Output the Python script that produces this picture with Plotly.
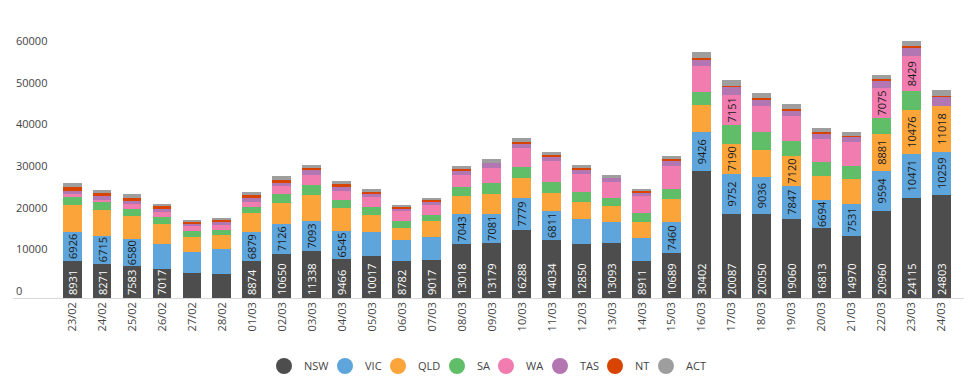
import plotly.graph_objects as go

dates = ['23/02', '24/02', '25/02', '26/02', '27/02', '28/02',
         '01/03', '02/03', '03/03', '04/03', '05/03', '06/03', '07/03', '08/03',
         '09/03', '10/03', '11/03', '12/03', '13/03', '14/03', '15/03', '16/03',
         '17/03', '18/03', '19/03', '20/03', '21/03', '22/03', '23/03', '24/03']

NSW = [8931, 8271, 7583, 7017, 5920, 5680, 8874, 10650, 11338, 9466, 10017, 8782, 9017, 13018, 13179,
       16288, 14034, 12850, 13093, 8911, 10689, 30402, 20087, 20050, 19060, 16813, 14970, 20960, 24115, 24803]
VIC = [6926, 6715, 6580, 5840, 5040, 6000, 6879, 7126, 7093, 6545, 5760, 5040, 5520, 7043, 7081,
       7779, 6811, 6000, 5040, 5440, 7460, 9426, 9752, 9036, 7847, 6694, 7531, 9594, 10471, 10259]
QLD = [6480, 6080, 5520, 4800, 3600, 3360, 4560, 4960, 6400, 5520, 4080, 2880, 3840, 4320, 4800,
       4640, 4320, 4080, 3840, 3840, 5520, 6400, 7190, 6320, 7120, 5760, 6160, 8881, 10476, 11018]
SA = [1920, 1920, 1600, 1680, 1440, 1200, 1440, 2160, 2400, 1920, 1920, 1680, 1440, 2160, 2640,
      2640, 2640, 2400, 1920, 2160, 2400, 3120, 4560, 4320, 3600, 3360, 3120, 3840, 4560, 0]
WA = [720, 480, 1280, 1200, 1200, 1200, 1200, 1920, 2400, 2160, 2400, 2400, 2400, 2880, 3600,
      4560, 5040, 4320, 3840, 4080, 5520, 6240, 7151, 6240, 6000, 5520, 5760, 7075, 8429, 0]
TAS = [720, 1040, 720, 720, 480, 720, 960, 720, 1200, 960, 960, 720, 960, 1200, 1200,
       1200, 1200, 1200, 960, 960, 1440, 1680, 1920, 1680, 1440, 1440, 1200, 1680, 1920, 2160]
NT = [960, 640, 800, 720, 480, 480, 720, 720, 480, 720, 240, 240, 240, 240, 0,
      240, 240, 240, 0, 240, 240, 240, 240, 240, 240, 240, 240, 480, 480, 240]
ACT = [960, 720, 880, 480, 480, 480, 720, 960, 720, 720, 720, 480, 480, 720, 960,
       960, 720, 720, 720, 480, 720, 1440, 1440, 1200, 1200, 960, 960, 960, 1200, 1440]

# which bars carry a data label, per series (by date)
NSW_labelled = [d for d in dates if d not in ('27/02', '28/02')]
VIC_labelled = ['23/02', '24/02', '25/02', '01/03', '02/03', '03/03', '04/03', '08/03', '09/03',
                '10/03', '11/03', '15/03', '16/03', '17/03', '18/03', '19/03', '20/03', '21/03',
                '22/03', '23/03', '24/03']
QLD_labelled = ['17/03', '19/03', '22/03', '23/03', '24/03']
WA_labelled = ['17/03', '22/03', '23/03']

y_ticks = [0, 10000, 20000, 30000, 40000, 50000, 60000]

series = [
    ('NSW', NSW, '#4d4d4d', NSW_labelled),
    ('VIC', VIC, '#5da5da', VIC_labelled),
    ('QLD', QLD, '#faa43a', QLD_labelled),
    ('SA', SA, '#60bd68', []),
    ('WA', WA, '#f17cb0', WA_labelled),
    ('TAS', TAS, '#b276b2', []),
    ('NT', NT, '#d94300', []),
    ('ACT', ACT, '#9e9e9e', []),
]

# page offset introduced by the default body margin
OFF = 8
W, H = 972 - OFF, 384 - OFF
legend_left_px = [264, 325, 378, 437, 486, 540, 595, 646]

FONT = 'Open Sans'
fig = go.Figure()
for name, vals, color, labelled in series:
    text = [str(v) if d in labelled else '' for d, v in zip(dates, vals)]
    fig.add_trace(go.Bar(
        x=dates, y=vals, name=name, marker=dict(color=color, line=dict(width=0)),
        text=text, textposition='inside', textangle=-90,
        insidetextanchor='start' if name == 'NSW' else 'middle',
        constraintext='none',
        textfont=dict(family=FONT, size=11, color='#ffffff' if name == 'NSW' else '#1a1a1a'),
        showlegend=False,
    ))

legends = {}
for i, (name, vals, color, labelled) in enumerate(series):
    key = 'legend' if i == 0 else f'legend{i + 1}'
    fig.add_trace(go.Scatter(
        x=[None], y=[None], mode='markers', name=name, legend=key,
        marker=dict(symbol='circle', size=16, color=color),
    ))
    legends[key] = dict(
        orientation='h', xref='container', yref='container',
        x=(legend_left_px[i] - OFF) / W, xanchor='left',
        y=1 - (366 - OFF) / H, yanchor='middle',
        bgcolor='rgba(0,0,0,0)',
        font=dict(family=FONT, size=11, color='#444444'),
    )

fig.update_layout(
    width=W, height=H,
    margin=dict(l=13 - OFF, r=4, t=30 - OFF, b=85),
    barmode='stack', bargap=0.367,
    paper_bgcolor='white', plot_bgcolor='white',
    font=dict(family=FONT, size=11, color='#444444'),
    xaxis=dict(type='category', range=[-1.967, 29.87], tickangle=-90, showline=False,
               ticks='', showgrid=False,
               tickfont=dict(family=FONT, size=11, color='#444444')),
    yaxis=dict(range=[-240, 64320], tickvals=y_ticks, ticktext=[str(t) for t in y_ticks],
               ticklabelposition='inside', ticklabelshift=-7, showgrid=False,
               zeroline=True, zerolinecolor='#d9d9d9', zerolinewidth=1,
               showline=False, ticks='',
               tickfont=dict(family=FONT, size=11, color='#444444')),
    **legends,
)

fig.write_html('out.html')
